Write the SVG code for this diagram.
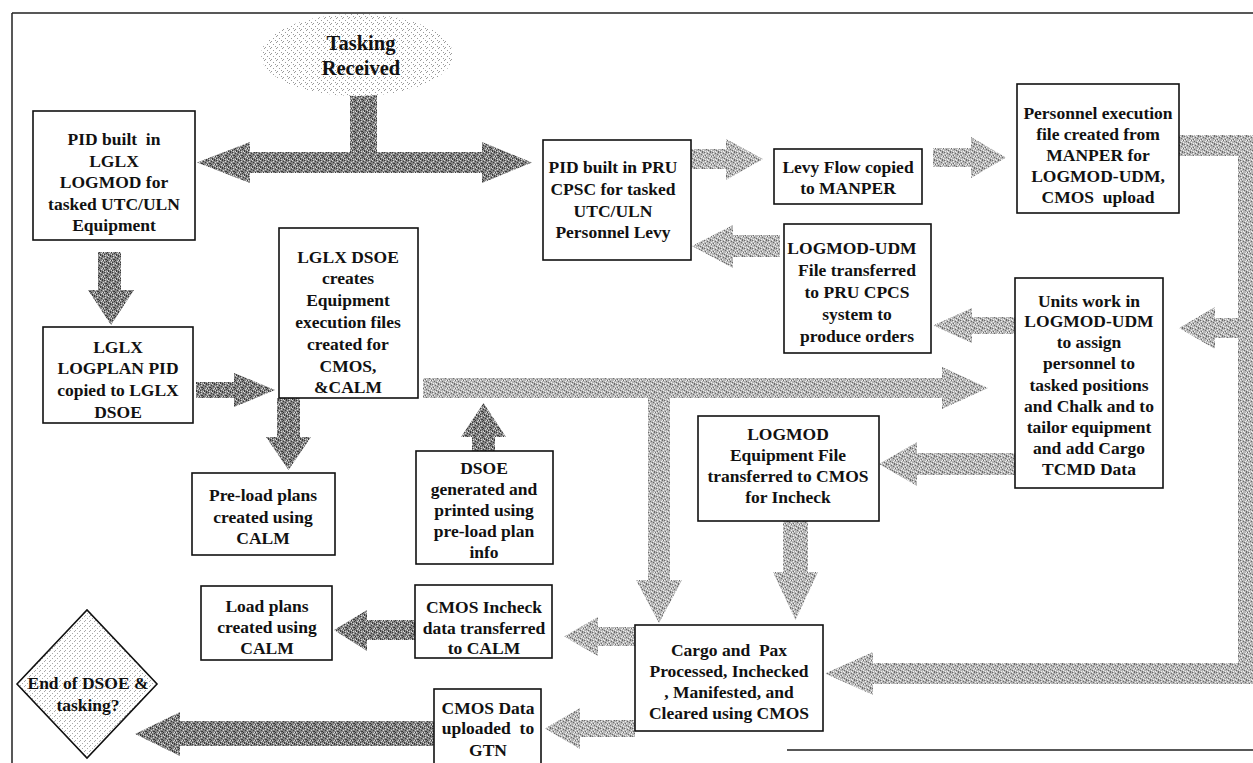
<svg xmlns="http://www.w3.org/2000/svg" width="1253" height="763" viewBox="0 0 1253 763">
<style>
.box{fill:#fff;stroke:#111;stroke-width:1.6}
.t{font-family:"Liberation Serif","Times New Roman",serif;font-weight:bold;font-size:17.5px;fill:#111;text-anchor:middle}
.big{font-size:20.5px}
.dk{fill:url(#pdk)}
.lt{fill:url(#plt)}
.frame{fill:none;stroke:#222;stroke-width:1.5}
</style>
<defs>
<pattern id="pdk" patternUnits="userSpaceOnUse" width="8" height="8">
<rect width="8" height="8" fill="#858585"/>
<g fill="#3a3a3a"><rect x="0" y="0" width="1" height="1"/><rect x="3" y="1" width="1" height="1"/><rect x="6" y="0" width="1" height="1"/><rect x="1" y="3" width="2" height="1"/><rect x="5" y="2" width="1" height="1"/><rect x="7" y="4" width="1" height="1"/><rect x="2" y="5" width="1" height="1"/><rect x="4" y="6" width="1" height="2"/><rect x="6" y="7" width="1" height="1"/><rect x="0" y="6" width="1" height="1"/><rect x="3" y="4" width="1" height="1"/></g>
<g fill="#d8d8d8"><rect x="1" y="1" width="1" height="1"/><rect x="4" y="0" width="1" height="1"/><rect x="7" y="2" width="1" height="1"/><rect x="6" y="4" width="1" height="1"/><rect x="0" y="4" width="1" height="1"/><rect x="3" y="7" width="1" height="1"/><rect x="5" y="5" width="1" height="1"/><rect x="1" y="7" width="1" height="1"/><rect x="7" y="6" width="1" height="1"/></g>
</pattern>
<pattern id="plt" patternUnits="userSpaceOnUse" width="8" height="8">
<rect width="8" height="8" fill="#b6b6b6"/>
<g fill="#6a6a6a"><rect x="0" y="0" width="1" height="1"/><rect x="3" y="1" width="1" height="1"/><rect x="6" y="0" width="1" height="1"/><rect x="1" y="3" width="1" height="1"/><rect x="5" y="2" width="1" height="1"/><rect x="7" y="4" width="1" height="1"/><rect x="2" y="5" width="1" height="1"/><rect x="4" y="6" width="1" height="1"/><rect x="6" y="7" width="1" height="1"/></g>
<g fill="#f0f0f0"><rect x="1" y="1" width="1" height="1"/><rect x="4" y="0" width="1" height="1"/><rect x="7" y="2" width="1" height="1"/><rect x="2" y="3" width="1" height="1"/><rect x="6" y="4" width="1" height="1"/><rect x="0" y="4" width="1" height="1"/><rect x="3" y="7" width="1" height="1"/><rect x="5" y="5" width="1" height="1"/><rect x="1" y="7" width="1" height="1"/><rect x="7" y="6" width="1" height="1"/></g>
</pattern>
<pattern id="pcl" patternUnits="userSpaceOnUse" width="6" height="6">
<rect width="6" height="6" fill="#fff"/>
<g fill="#9a9a9a"><rect x="0" y="0" width="1" height="1"/><rect x="3" y="2" width="1" height="1"/><rect x="5" y="4" width="1" height="1"/><rect x="1" y="5" width="1" height="1"/></g>
</pattern>
<pattern id="pdia" patternUnits="userSpaceOnUse" width="5" height="5">
<rect width="5" height="5" fill="#fff"/>
<g fill="#aaa"><rect x="0" y="0" width="1" height="1"/><rect x="2" y="3" width="1" height="1"/><rect x="4" y="1" width="1" height="1"/></g>
</pattern>
</defs>

<g id="frame">
<path class="frame" d="M12,13 H1253 M12,13 V763 M787,750 H1253"/>
</g>

<g id="connectors">
<path class="dk" d="M350,95 H377 V152 H482 V142 L532,162.5 L482,183 V173 H250 V183 L197,162.5 L250,142 V152 H350 Z"/>
<path class="lt" d="M691,149 H726 V139 L763,159 L726,180 V169 H691 Z"/>
<path class="lt" d="M933,148 H971 V137 L1006,157.5 L971,178 V167 H933 Z"/>
<path class="lt" d="M1179,135 H1262 V684 H873 V695 L825,673.5 L873,652 V663 H1238 V156 H1179 Z"/>
<path class="lt" d="M1238,318 H1215 V307 L1179,328 L1215,349 V338 H1238 Z"/>
<path class="lt" d="M1015,317 H972 V308 L933,325.5 L972,343 V334 H1015 Z"/>
<path class="lt" d="M780,235 H733 V225 L692,246 L733,268 V257 H780 Z"/>
<path class="lt" d="M1015,453 H917 V442 L879,464 L917,486 V475 H1015 Z"/>
<path class="lt" d="M783,521 H808 V572 H818 L795.5,620 L773,572 H783 Z"/>
<path class="lt" d="M423,378 H942 V367 L988,388 L942,409 V398 H670 V580 H682 L659,623 L636,580 H648 V398 H423 Z"/>
<path class="dk" d="M98,252 H121 V290 H134 L111,325 L88,290 H98 Z"/>
<path class="dk" d="M196,382 H234 V373 L275,390 L234,407 V398 H196 Z"/>
<path class="dk" d="M277,398 H300 V437 H311 L288.5,470 L266,437 H277 Z"/>
<path class="dk" d="M472,451 H495 V437 H506 L483.5,403 L461,437 H472 Z"/>
<path class="lt" d="M635,627 H598 V617 L564,636.5 L598,656 V646 H635 Z"/>
<path class="dk" d="M415,620 H367 V610 L334,630 L367,651 V640 H415 Z"/>
<path class="lt" d="M635,720 H580 V708 L545,728.5 L580,749 V737 H635 Z"/>
<path class="dk" d="M434,721 H180 V712 L135,734 L180,756 V746 H434 Z"/>
</g>

<g id="tasking-received">
<ellipse cx="357" cy="55" rx="96" ry="41" fill="url(#pcl)"/>
<text class="t big" x="361" y="50">Tasking</text>
<text class="t big" x="361" y="75">Received</text>
</g>

<g id="pid-lglx">
<rect class="box" x="33" y="111" width="162" height="129"/>
<text class="t" x="114" y="145" xml:space="preserve">PID built  in</text>
<text class="t" x="114" y="166.5">LGLX</text>
<text class="t" x="114" y="188">LOGMOD for</text>
<text class="t" x="114" y="209.5">tasked UTC/ULN</text>
<text class="t" x="114" y="231">Equipment</text>
</g>

<g id="pid-pru">
<rect class="box" x="543" y="140" width="148" height="120"/>
<text class="t" x="613" y="173">PID built in PRU</text>
<text class="t" x="613" y="195">CPSC for tasked</text>
<text class="t" x="613" y="217">UTC/ULN</text>
<text class="t" x="613" y="238">Personnel Levy</text>
</g>

<g id="levy-flow">
<rect class="box" x="774" y="149" width="148" height="55"/>
<text class="t" x="848" y="173">Levy Flow copied</text>
<text class="t" x="848" y="194">to MANPER</text>
</g>

<g id="personnel-exec">
<rect class="box" x="1017" y="84" width="162" height="129"/>
<text class="t" x="1098" y="119">Personnel execution</text>
<text class="t" x="1098" y="140">file created from</text>
<text class="t" x="1098" y="161">MANPER for</text>
<text class="t" x="1098" y="182">LOGMOD-UDM,</text>
<text class="t" x="1098" y="203" xml:space="preserve">CMOS  upload</text>
</g>

<g id="logmod-udm-file">
<rect class="box" x="784" y="224" width="147" height="129"/>
<text class="t" x="852" y="254">LOGMOD-UDM</text>
<text class="t" x="857" y="276">File transferred</text>
<text class="t" x="857" y="298">to PRU CPCS</text>
<text class="t" x="857" y="320">system to</text>
<text class="t" x="857" y="342">produce orders</text>
</g>

<g id="units-work">
<rect class="box" x="1015" y="278" width="148" height="210"/>
<text class="t" x="1089" y="307">Units work in</text>
<text class="t" x="1089" y="327">LOGMOD-UDM</text>
<text class="t" x="1089" y="348">to assign</text>
<text class="t" x="1089" y="369">personnel to</text>
<text class="t" x="1089" y="391">tasked positions</text>
<text class="t" x="1089" y="412">and Chalk and to</text>
<text class="t" x="1089" y="433">tailor equipment</text>
<text class="t" x="1089" y="454">and add Cargo</text>
<text class="t" x="1089" y="475">TCMD Data</text>
</g>

<g id="lglx-dsoe">
<rect class="box" x="279" y="228" width="139" height="170"/>
<text class="t" x="348" y="263">LGLX DSOE</text>
<text class="t" x="348" y="284">creates</text>
<text class="t" x="348" y="306">Equipment</text>
<text class="t" x="348" y="328">execution files</text>
<text class="t" x="348" y="350">created for</text>
<text class="t" x="348" y="372">CMOS,</text>
<text class="t" x="348" y="393">&amp;CALM</text>
</g>

<g id="lglx-logplan">
<rect class="box" x="43" y="327" width="150" height="96"/>
<text class="t" x="118" y="353">LGLX</text>
<text class="t" x="118" y="374">LOGPLAN PID</text>
<text class="t" x="118" y="396">copied to LGLX</text>
<text class="t" x="118" y="418">DSOE</text>
</g>

<g id="pre-load">
<rect class="box" x="192" y="473" width="143" height="82"/>
<text class="t" x="263" y="501">Pre-load plans</text>
<text class="t" x="263" y="523">created using</text>
<text class="t" x="263" y="544">CALM</text>
</g>

<g id="dsoe-generated">
<rect class="box" x="416" y="451" width="137" height="113"/>
<text class="t" x="484" y="474">DSOE</text>
<text class="t" x="484" y="495">generated and</text>
<text class="t" x="484" y="516">printed using</text>
<text class="t" x="484" y="537">pre-load plan</text>
<text class="t" x="484" y="558">info</text>
</g>

<g id="logmod-equipment">
<rect class="box" x="698" y="416" width="181" height="105"/>
<text class="t" x="788" y="440">LOGMOD</text>
<text class="t" x="788" y="461">Equipment File</text>
<text class="t" x="788" y="482">transferred to CMOS</text>
<text class="t" x="788" y="503">for Incheck</text>
</g>

<g id="cargo-pax">
<rect class="box" x="635" y="625" width="188" height="106"/>
<text class="t" x="729" y="656" xml:space="preserve">Cargo and  Pax</text>
<text class="t" x="729" y="677">Processed, Inchecked</text>
<text class="t" x="729" y="698">, Manifested, and</text>
<text class="t" x="729" y="719">Cleared using CMOS</text>
</g>

<g id="cmos-incheck">
<rect class="box" x="415" y="585" width="137" height="73"/>
<text class="t" x="484" y="613">CMOS Incheck</text>
<text class="t" x="484" y="634">data transferred</text>
<text class="t" x="484" y="654">to CALM</text>
</g>

<g id="load-plans">
<rect class="box" x="201" y="586" width="131" height="74"/>
<text class="t" x="267" y="612">Load plans</text>
<text class="t" x="267" y="633">created using</text>
<text class="t" x="267" y="654">CALM</text>
</g>

<g id="cmos-data">
<rect class="box" x="434" y="689" width="107" height="76"/>
<text class="t" x="488" y="714">CMOS Data</text>
<text class="t" x="488" y="734" xml:space="preserve">uploaded  to</text>
<text class="t" x="488" y="756">GTN</text>
</g>

<g id="end-decision">
<polygon points="17,684 87,610 157,684 87,758" fill="url(#pdia)" stroke="#111" stroke-width="1.6"/>
<text class="t" x="88" y="689">End of DSOE &amp;</text>
<text class="t" x="88" y="711">tasking?</text>
</g>
</svg>
